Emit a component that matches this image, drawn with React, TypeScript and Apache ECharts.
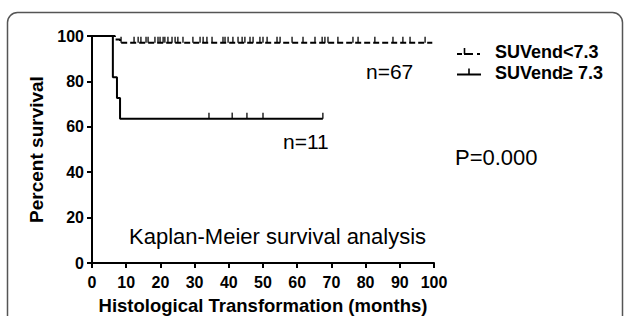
import React, { useEffect, useRef } from "react";
import * as echarts from "echarts";

// Kaplan-Meier step points [months, percent]
const lowGroupSteps: [number, number][] = [
  [0, 100],
  [6.7, 98.5],
  [8.2, 97.0],
  [99.5, 97.0],
];
const highGroupSteps: [number, number][] = [
  [0, 100],
  [6.1, 81.8],
  [7.3, 72.7],
  [8.2, 63.6],
  [67.5, 63.6],
];
// censored observation times (months)
const lowGroupCensored: number[] = [
  8.5, 12.3, 13.5, 14.3, 15.8, 16.4, 18.4, 19.3, 19.9, 20.8, 21.3, 22.2, 23.4,
  24.3, 25.1, 26.6, 29.5, 31.6, 32.5, 33.6, 35.1, 38.3, 38.9, 39.8, 41.2, 42.7,
  43.9, 44.7, 46.2, 47.1, 49.1, 50, 51.2, 54.1, 55, 58.5, 61.7, 65.2, 67.3,
  68.1, 69, 71.9, 76.3, 77.8, 82.7, 88, 90.9, 93, 97.4,
];
const lowGroupCensorLevel = 97.0;
const highGroupCensored: number[] = [34.2, 41, 45.3, 50, 67.5];
const highGroupCensorLevel = 63.6;

const xTicks = [0, 10, 20, 30, 40, 50, 60, 70, 80, 90, 100];
const yTicks = [0, 20, 40, 60, 80, 100];

const legendNames = ["SUVend<7.3", "SUVend\u2265 7.3"];
const groupSizes = ["n=67", "n=11"];
const pValueText = "P=0.000";
const annotation = "Kaplan-Meier survival analysis";
const xTitle = "Histological Transformation (months)";
const yTitle = "Percent survival";

const FONT = "'Liberation Sans', Arial, Helvetica, sans-serif";

export default function App() {
  const ref = useRef<HTMLDivElement>(null);
  useEffect(() => {
    if (!ref.current) return;
    const chart = echarts.init(ref.current, null, { renderer: "svg" });
    const tickMark = {
      symbol: "rect",
      symbolSize: [1.6, 6],
      symbolOffset: [0, -3],
    };
    chart.setOption({
      animation: false,
      backgroundColor: "#ffffff",
      textStyle: { fontFamily: FONT },
      grid: {
        left: 92,
        top: 36,
        right: 193,
        bottom: 53,
        containLabel: false,
        outerBoundsMode: "none",
      },
      xAxis: {
        type: "value",
        min: xTicks[0],
        max: xTicks[xTicks.length - 1],
        interval: 10,
        name: xTitle,
        nameLocation: "middle",
        nameGap: 33,
        nameTextStyle: { fontFamily: FONT, fontWeight: "bold", fontSize: 18.5, color: "#000" },
        axisLine: { lineStyle: { color: "#000", width: 2 } },
        axisTick: { length: 5, lineStyle: { color: "#000", width: 2 } },
        axisLabel: { fontFamily: FONT, fontWeight: "bold", fontSize: 16, color: "#000", margin: 11 },
        splitLine: { show: false },
      },
      yAxis: {
        type: "value",
        min: yTicks[0],
        max: yTicks[yTicks.length - 1],
        interval: 20,
        name: yTitle,
        nameLocation: "middle",
        nameGap: 43,
        nameTextStyle: { fontFamily: FONT, fontWeight: "bold", fontSize: 19, color: "#000" },
        axisLine: { lineStyle: { color: "#000", width: 2 } },
        axisTick: { length: 5, lineStyle: { color: "#000", width: 2 } },
        axisLabel: { fontFamily: FONT, fontWeight: "bold", fontSize: 16, color: "#000", margin: 8 },
        splitLine: { show: false },
      },
      series: [
        {
          type: "line",
          name: legendNames[0],
          step: "end",
          data: lowGroupSteps,
          showSymbol: false,
          clip: false,
          lineStyle: { color: "#000", width: 2, type: [6, 3] },
        },
        {
          type: "line",
          name: legendNames[1],
          step: "end",
          data: highGroupSteps,
          showSymbol: false,
          clip: false,
          lineStyle: { color: "#000", width: 2 },
        },
        {
          type: "scatter",
          data: lowGroupCensored.map((t) => [t, lowGroupCensorLevel]),
          ...tickMark,
          itemStyle: { color: "#000" },
          clip: false,
        },
        {
          type: "scatter",
          data: highGroupCensored.map((t) => [t, highGroupCensorLevel]),
          ...tickMark,
          itemStyle: { color: "#000" },
          clip: false,
        },
      ],
      graphic: [
        {
          type: "rect",
          shape: { x: 7.5, y: 12.5, width: 615, height: 400, r: 10 },
          style: { fill: "none", stroke: "#555", lineWidth: 1.5 },
          silent: true,
        },
        // legend symbol 1 (dashed with censor tick)
        { type: "line", shape: { x1: 457, y1: 54, x2: 462, y2: 54 }, style: { stroke: "#000", lineWidth: 2 } },
        { type: "line", shape: { x1: 464, y1: 54, x2: 473, y2: 54 }, style: { stroke: "#000", lineWidth: 2 } },
        { type: "line", shape: { x1: 464.5, y1: 48, x2: 464.5, y2: 54 }, style: { stroke: "#000", lineWidth: 1.6 } },
        { type: "line", shape: { x1: 477, y1: 54, x2: 480, y2: 54 }, style: { stroke: "#000", lineWidth: 2 } },
        {
          type: "text",
          x: 495,
          y: 52,
          style: { text: legendNames[0], font: `bold 18px ${FONT}`, fill: "#000", verticalAlign: "middle" },
        },
        // legend symbol 2 (solid with censor tick)
        { type: "line", shape: { x1: 457, y1: 74.5, x2: 481, y2: 74.5 }, style: { stroke: "#000", lineWidth: 2 } },
        { type: "line", shape: { x1: 469, y1: 68.5, x2: 469, y2: 74.5 }, style: { stroke: "#000", lineWidth: 1.6 } },
        {
          type: "text",
          x: 495,
          y: 73,
          style: { text: legendNames[1], font: `bold 18px ${FONT}`, fill: "#000", verticalAlign: "middle" },
        },
        {
          type: "text",
          x: 366,
          y: 71,
          style: { text: groupSizes[0], font: `21px ${FONT}`, fill: "#000", verticalAlign: "middle" },
        },
        {
          type: "text",
          x: 283,
          y: 141,
          style: { text: groupSizes[1], font: `21px ${FONT}`, fill: "#000", verticalAlign: "middle" },
        },
        {
          type: "text",
          x: 455,
          y: 157,
          style: { text: pValueText, font: `22px ${FONT}`, fill: "#000", verticalAlign: "middle" },
        },
        {
          type: "text",
          x: 129,
          y: 236,
          style: { text: annotation, font: `22px ${FONT}`, fill: "#000", verticalAlign: "middle" },
        },
      ],
    });
    return () => chart.dispose();
  }, []);
  return (
    <div
      ref={ref}
      style={{ position: "absolute", left: 0, top: 0, width: 627, height: 316, background: "#fff" }}
    />
  );
}
